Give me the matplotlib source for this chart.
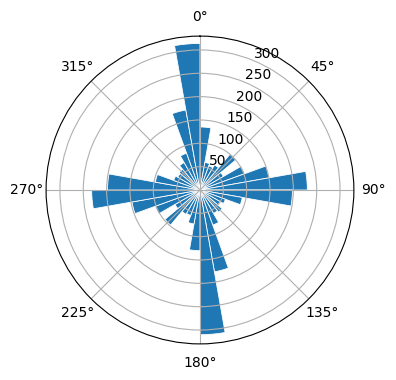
import numpy as np
import matplotlib.pyplot as plt

# direction bins, 10 degrees each, clockwise from north
bin_start_deg = np.arange(0, 360, 10)
counts = [135, 60, 55, 62, 100, 58, 102, 150, 230, 198,
          92, 58, 50, 62, 58, 80, 178, 310, 130, 74,
          58, 60, 98, 62, 102, 148, 232, 198, 97, 60,
          55, 58, 68, 84, 174, 314]

fig = plt.figure(figsize=(3.96, 3.80), dpi=100)
ax = fig.add_axes([0.116, 0.095, 0.778, 0.81], projection='polar')
ax.set_theta_zero_location('N')
ax.set_theta_direction(-1)

ax.bar(np.deg2rad(bin_start_deg), counts, width=np.deg2rad(10), align='edge',
       edgecolor='white', linewidth=0.6)

fig.savefig('out.png', dpi=100)
